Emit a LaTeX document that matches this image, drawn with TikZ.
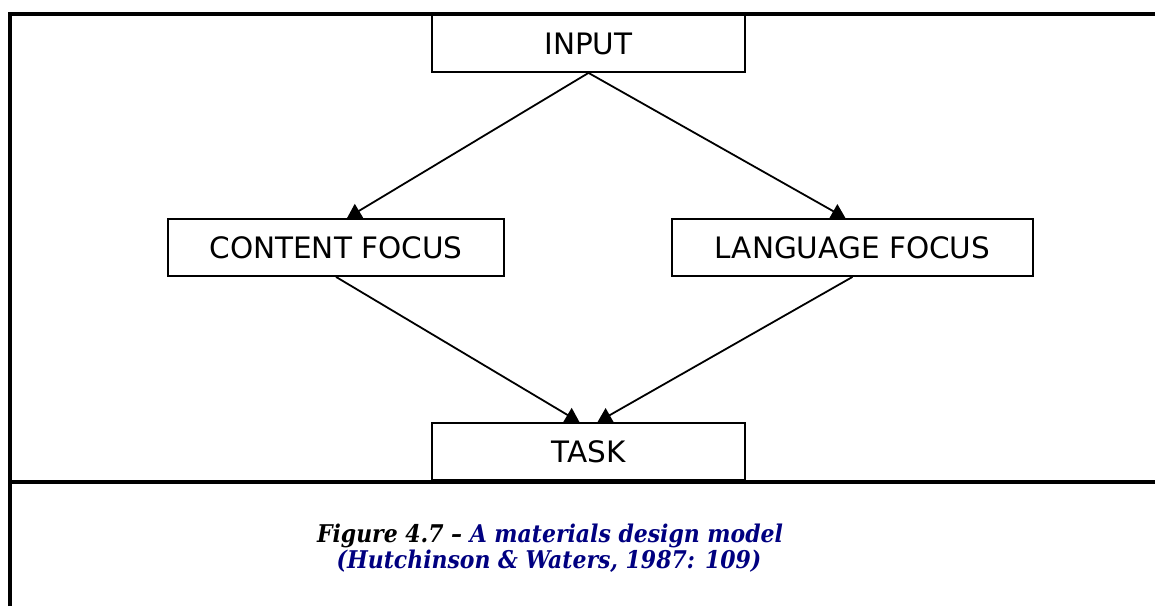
\documentclass[tikz,border=0pt]{standalone}
\usepackage{fontspec}
\setmainfont{DejaVu Sans}
\newfontfamily\capfont{DejaVu Serif Condensed}
\usetikzlibrary{arrows.meta}
\definecolor{capblue}{RGB}{0,0,128}
\begin{document}
\begin{tikzpicture}[x=1pt,y=-1pt,
  box/.style={draw=black,line width=1.8pt,minimum width=#1,minimum height=57pt,inner sep=0pt,
    font=\fontsize{29.5}{35}\selectfont},
  box/.default=313pt,
  frame/.style={line width=3.2pt},
  link/.style={line width=1.8pt,-{Triangle[length=14pt,width=16pt]}},
  captext/.style={anchor=base,inner sep=0pt,font=\capfont\bfseries\itshape\fontsize{24.4}{26}\selectfont}]
\useasboundingbox (0,0) rectangle (1155,606);
% frame
\draw[frame] (10,606) -- (10,14) -- (1155,14);
\draw[frame] (10,482) -- (1155,482);
% boxes
\node[box] (input) at (588.5,43.5) {INPUT};
\node[box=336pt] (content) at (336,247.5) {CONTENT FOCUS};
\node[box=361pt] (language) at (852.5,247.5) {LANGUAGE FOCUS};
\node[box] (task) at (588.5,451.5) {TASK};
% links
\draw[link] (input.south) -- ([xshift=11pt]content.north);
\draw[link] (input.south) -- ([xshift=-7pt]language.north);
\draw[link] (content.south) -- ([xshift=-9pt]task.north);
\draw[link] (language.south) -- ([xshift=9pt]task.north);
% caption
\node[captext] (cap1) at (550,542) {Figure 4.7 – \textcolor{capblue}{A materials design model}};
\node[captext,text=capblue] (cap2) at (549,568) {(Hutchinson \& Waters, 1987: 109)};
\end{tikzpicture}
\end{document}
